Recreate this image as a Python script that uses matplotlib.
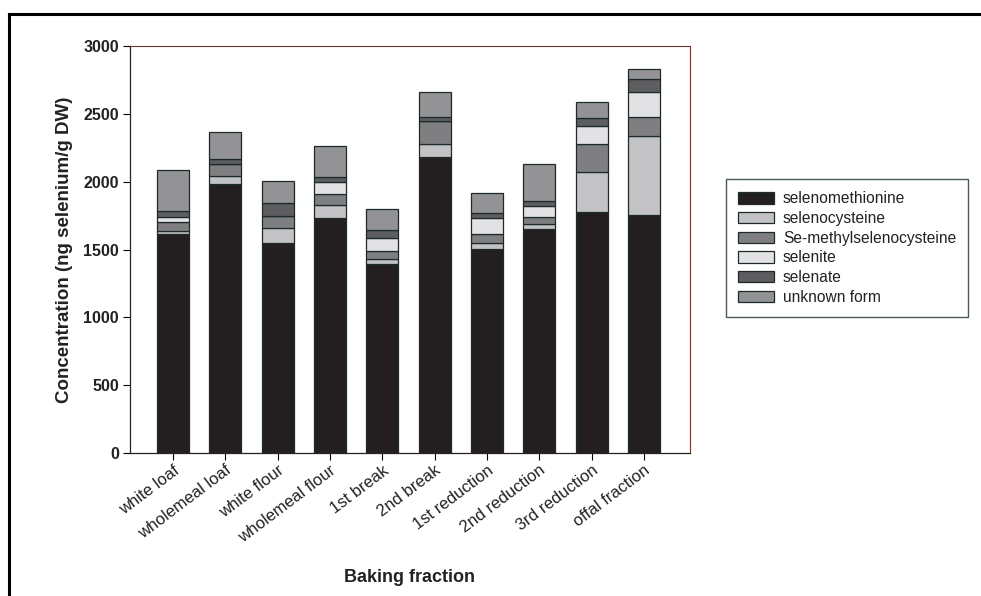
import matplotlib
matplotlib.use("Agg")
import matplotlib.pyplot as plt
from matplotlib.lines import Line2D
import numpy as np

plt.rcParams["font.family"] = ["Liberation Sans", "DejaVu Sans"]

# baking fractions
fractions = ["white loaf", "wholemeal loaf", "white flour", "wholemeal flour",
             "1st break", "2nd break", "1st reduction", "2nd reduction",
             "3rd reduction", "offal fraction"]

# ng selenium / g DW
selenomethionine = [1615, 1980, 1546, 1735, 1391, 2180, 1501, 1649, 1775, 1754]
selenocysteine = [25, 62, 110, 93, 37, 98, 45, 39, 299, 583]
se_methylselenocysteine = [61, 86, 91, 81, 61, 169, 66, 54, 200, 142]
selenite = [37, 0, 0, 91, 98, 0, 123, 81, 140, 184]
selenate = [49, 37, 98, 37, 57, 27, 32, 37, 54, 94]
unknown_form = [302, 199, 162, 226, 154, 189, 152, 270, 122, 71]

series = [
    ("selenomethionine", selenomethionine, "#231f20"),
    ("selenocysteine", selenocysteine, "#c3c3c5"),
    ("Se-methylselenocysteine", se_methylselenocysteine, "#7f7f81"),
    ("selenite", selenite, "#e2e2e4"),
    ("selenate", selenate, "#5e5e60"),
    ("unknown form", unknown_form, "#939396"),
]

W, H = 981, 596
fig = plt.figure(figsize=(W / 100, H / 100), dpi=100)
ax = fig.add_axes([130 / W, 1 - 453 / H, (690 - 130) / W, (453 - 46) / H])

x = np.arange(len(fractions))
bottom = np.zeros(len(fractions))
for name, vals, col in series:
    vals = np.array(vals, dtype=float)
    ax.bar(x, vals, 0.61, bottom=bottom, color=col, edgecolor="#1e2a2a",
           linewidth=0.9, label=name, zorder=3)
    bottom += vals

ax.set_xlim(-0.82, 9.88)
ax.set_ylim(0, 3000)
ax.set_yticks([0, 500, 1000, 1500, 2000, 2500, 3000])

frame_col = "#6b3a30"
for side in ("top", "right"):
    ax.spines[side].set_color(frame_col)
    ax.spines[side].set_linewidth(0.8)
for side in ("left", "bottom"):
    ax.spines[side].set_color("#2a2020")
    ax.spines[side].set_linewidth(0.9)

ax.tick_params(axis="y", direction="out", length=5, width=0.8, labelsize=11.5, pad=3)
ax.tick_params(axis="x", direction="out", length=5, width=0.8, labelsize=12, pad=2)
for lbl in ax.get_yticklabels():
    lbl.set_fontweight("bold")
    lbl.set_color("#222222")

ax.set_xticks(x)
ax.set_xticklabels(fractions, rotation=37, ha="right", rotation_mode="anchor",
                   color="#222222")

ax.set_ylabel("Concentration (ng selenium/g DW)", fontsize=13.5,
              fontweight="bold", color="#222222", labelpad=7)
fig.text(410 / W, 1 - 578 / H, "Baking fraction", fontsize=13, fontweight="bold",
         ha="center", va="center", color="#222222")

leg = fig.legend(loc="upper left", bbox_to_anchor=(726 / W, 1 - 179 / H),
                 fontsize=11.2, frameon=True, fancybox=False,
                 handlelength=2.3, handleheight=0.75, labelspacing=0.3,
                 borderpad=0.8, handletextpad=0.55, borderaxespad=0)
leg.get_frame().set_edgecolor("#1e3030")
leg.get_frame().set_linewidth(1.0)
for t in leg.get_texts():
    t.set_color("#222222")

# outer page frame
fig.add_artist(Line2D([9 / W, 1], [1 - 14 / H, 1 - 14 / H], color="black",
                      linewidth=2.2, transform=fig.transFigure))
fig.add_artist(Line2D([9 / W, 9 / W], [0, 1 - 14 / H], color="black",
                      linewidth=2.2, transform=fig.transFigure))

fig.savefig("out.png", dpi=100)
